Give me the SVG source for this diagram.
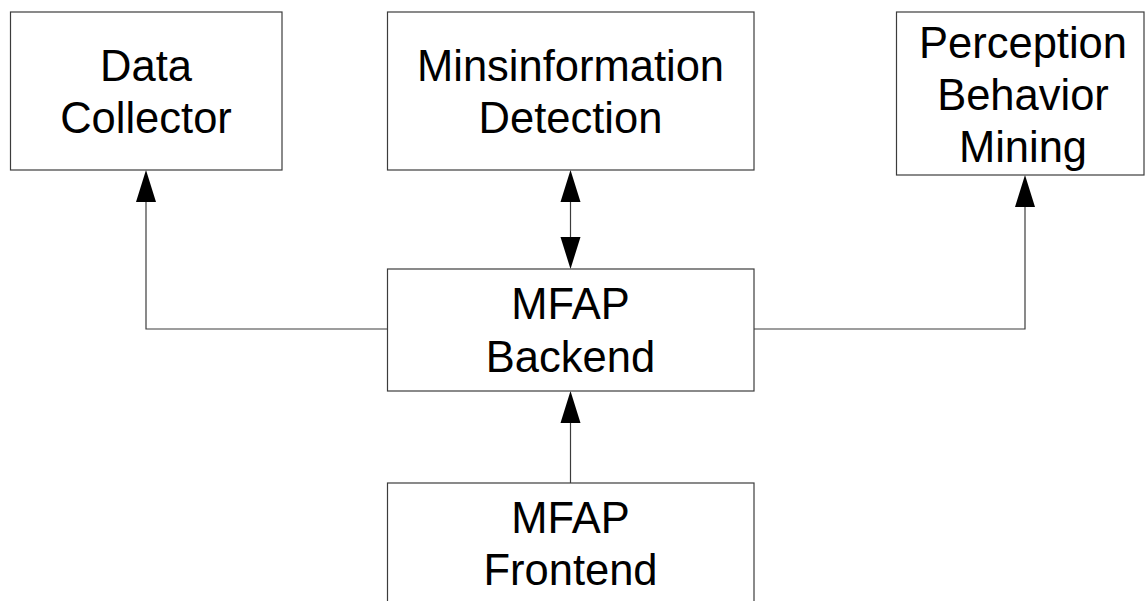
<svg xmlns="http://www.w3.org/2000/svg" width="1145" height="601" viewBox="0 0 1145 601">
<style>
.box{fill:#fff;stroke:#3c3c3c;stroke-width:1.2}
.lbl{font-family:"Liberation Sans",Arial,sans-serif;font-size:43.5px;fill:#000;text-anchor:middle}
.con{fill:none;stroke:#3c3c3c;stroke-width:1.2}
.ah{fill:#000}
</style>
<rect width="1145" height="601" fill="#fff"/>
<g id="connectors">
<polyline class="con" points="387,329 146,329 146,200"/>
<polygon class="ah" points="146,170 136,202 156,202"/>
<polyline class="con" points="754,329 1025,329 1025,205"/>
<polygon class="ah" points="1025,175 1015,207 1035,207"/>
<line class="con" x1="570.5" y1="200" x2="570.5" y2="239"/>
<polygon class="ah" points="570.5,170 560.5,202 580.5,202"/>
<polygon class="ah" points="570.5,269 560.5,237 580.5,237"/>
<line class="con" x1="570.5" y1="420" x2="570.5" y2="483"/>
<polygon class="ah" points="570.5,391 560.5,423 580.5,423"/>
</g>
<g id="data-collector">
<rect class="box" x="10.5" y="12" width="271.5" height="158"/>
<text class="lbl" x="146" y="81">Data</text>
<text class="lbl" x="146" y="133">Collector</text>
</g>
<g id="misinformation-detection">
<rect class="box" x="387.5" y="12" width="366.5" height="158"/>
<text class="lbl" x="570.5" y="81">Minsinformation</text>
<text class="lbl" x="570.5" y="133">Detection</text>
</g>
<g id="perception-behavior-mining">
<rect class="box" x="896.5" y="12" width="247.5" height="163"/>
<text class="lbl" x="1023" y="57.5">Perception</text>
<text class="lbl" x="1023" y="109.5">Behavior</text>
<text class="lbl" x="1023" y="161.5">Mining</text>
</g>
<g id="mfap-backend">
<rect class="box" x="387.5" y="269" width="366.5" height="122"/>
<text class="lbl" x="570.5" y="319">MFAP</text>
<text class="lbl" x="570.5" y="371.5">Backend</text>
</g>
<g id="mfap-frontend">
<rect class="box" x="387.5" y="483" width="366.5" height="130"/>
<text class="lbl" x="570.5" y="533">MFAP</text>
<text class="lbl" x="570.5" y="585">Frontend</text>
</g>
</svg>
